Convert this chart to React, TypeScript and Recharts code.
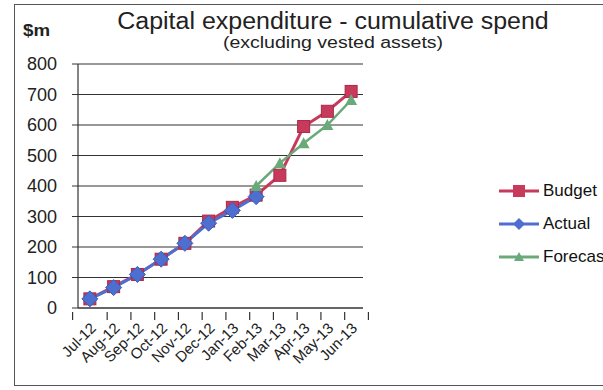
import { LineChart, Line, XAxis, YAxis, CartesianGrid, Legend } from "recharts";

const months = ["Jul-12", "Aug-12", "Sep-12", "Oct-12", "Nov-12", "Dec-12", "Jan-13", "Feb-13", "Mar-13", "Apr-13", "May-13", "Jun-13"];
const budget = [30, 70, 110, 160, 212, 285, 330, 370, 435, 595, 645, 710];
const actual = [30, 67, 110, 160, 212, 278, 320, 365, null, null, null, null];
const forecast = [null, null, null, null, null, null, null, 400, 475, 540, 600, 682];
const yTicks = [0, 100, 200, 300, 400, 500, 600, 700, 800];

const data = months.map((m, i) => ({ month: m, Budget: budget[i], Actual: actual[i], Forecast: forecast[i] }));

const RED = "#c83a5c";
const BLUE = "#4d6fd0";
const GREEN = "#6aa97a";
const FONT = "'Liberation Sans', Arial, sans-serif";

const W = 603;
const H = 390;
const M = { top: 64, right: 110, bottom: 0, left: 0 };
const Y_W = 78;
const BAND = (W - M.right - Y_W) / months.length;

function Square(p: any) {
  if (p.cx == null || p.cy == null || p.value == null) return null;
  return <rect key={p.key} x={p.cx - 6} y={p.cy - 6} width={12} height={12} fill={RED} stroke="#a82a48" strokeWidth={1} />;
}
function Diamond(p: any) {
  if (p.cx == null || p.cy == null || p.value == null) return null;
  const s = 8;
  return <polygon key={p.key} points={`${p.cx},${p.cy - s} ${p.cx + s},${p.cy} ${p.cx},${p.cy + s} ${p.cx - s},${p.cy}`} fill={BLUE} stroke="#3d5cb8" strokeWidth={1} />;
}
function Triangle(p: any) {
  if (p.cx == null || p.cy == null || p.value == null) return null;
  const s = 6;
  return <polygon key={p.key} points={`${p.cx},${p.cy - s} ${p.cx + s},${p.cy + s - 1} ${p.cx - s},${p.cy + s - 1}`} fill={GREEN} />;
}

function MonthTick(p: any) {
  const { x, y, payload, index } = p;
  const tx = x + 7;
  const ty = y + 13;
  return (
    <g>
      <line x1={x + BAND / 2} y1={y - 4} x2={x + BAND / 2} y2={y + 4} stroke="#333" strokeWidth={1.2} />
      {index === 0 && <line x1={x - BAND / 2} y1={y - 4} x2={x - BAND / 2} y2={y + 4} stroke="#333" strokeWidth={1.2} />}
      <text x={tx} y={ty} transform={`rotate(-45, ${tx}, ${ty})`} textAnchor="end" fontSize={15} fill="#222" fontFamily={FONT}>
        {payload.value}
      </text>
    </g>
  );
}

function LegendBox() {
  const items = [
    { name: "Budget", color: RED, mark: <rect x={14} y={3} width={12} height={12} fill={RED} /> },
    { name: "Actual", color: BLUE, mark: <polygon points="20,3 26,9 20,15 14,9" fill={BLUE} /> },
    { name: "Forecast", color: GREEN, mark: <polygon points="20,4 25,13 15,13" fill={GREEN} /> },
  ];
  return (
    <div style={{ fontFamily: FONT }}>
      {items.map((it) => (
        <div key={it.name} style={{ display: "flex", alignItems: "center", height: 33, whiteSpace: "nowrap" }}>
          <svg width={42} height={18}>
            <line x1={0} y1={9} x2={40} y2={9} stroke={it.color} strokeWidth={3} />
            {it.mark}
          </svg>
          <span style={{ fontSize: 17, color: "#111", marginLeft: 2 }}>{it.name}</span>
        </div>
      ))}
    </div>
  );
}

export default function App() {
  return (
    <div style={{ position: "absolute", left: 0, top: 0, width: W, height: H, overflow: "hidden", background: "#fff", fontFamily: FONT }}>
      <div style={{ position: "absolute", left: 14, top: 4, width: 640, height: 382, border: "1.5px solid #555", boxSizing: "border-box" }} />
      <div style={{ position: "absolute", left: 23, top: 21, fontSize: 17, fontWeight: "bold", color: "#222", transform: "scaleX(1.1)", transformOrigin: "left" }}>$m</div>
      <div style={{ position: "absolute", left: 33, top: 8, width: 600, textAlign: "center", fontSize: 23, lineHeight: "26px", color: "#222", transform: "scaleX(1.085)" }}>
        Capital expenditure - cumulative spend
      </div>
      <div style={{ position: "absolute", left: 33, top: 35, width: 600, textAlign: "center", fontSize: 16, lineHeight: "16px", color: "#222", transform: "scaleX(1.22)" }}>
        (excluding vested assets)
      </div>
      <div style={{ position: "absolute", left: 0, top: 0 }}>
        <LineChart width={W} height={H} data={data} margin={M}>
          <CartesianGrid vertical={false} stroke="#333" strokeWidth={1.2} />
          <XAxis
            dataKey="month"
            scale="band"
            height={82}
            interval={0}
            tickLine={false}
            axisLine={{ stroke: "#333", strokeWidth: 1.2 }}
            tick={<MonthTick />}
          />
          <YAxis
            width={Y_W}
            domain={[0, 800]}
            ticks={yTicks}
            interval={0}
            tickSize={6}
            tickMargin={15}
            axisLine={{ stroke: "#333", strokeWidth: 1.2 }}
            tickLine={{ stroke: "#333" }}
            tick={{ fontSize: 18, fill: "#222", fontFamily: FONT }}
          />
          <Legend
            layout="vertical"
            align="right"
            verticalAlign="top"
            content={<LegendBox />}
            wrapperStyle={{ position: "absolute", left: 499, top: 174, width: 130 }}
          />
          <Line dataKey="Budget" stroke={RED} strokeWidth={3} dot={<Square />} isAnimationActive={false} />
          <Line dataKey="Actual" stroke={BLUE} strokeWidth={3} dot={<Diamond />} isAnimationActive={false} />
          <Line dataKey="Forecast" stroke={GREEN} strokeWidth={2.5} dot={<Triangle />} isAnimationActive={false} />
        </LineChart>
      </div>
    </div>
  );
}
